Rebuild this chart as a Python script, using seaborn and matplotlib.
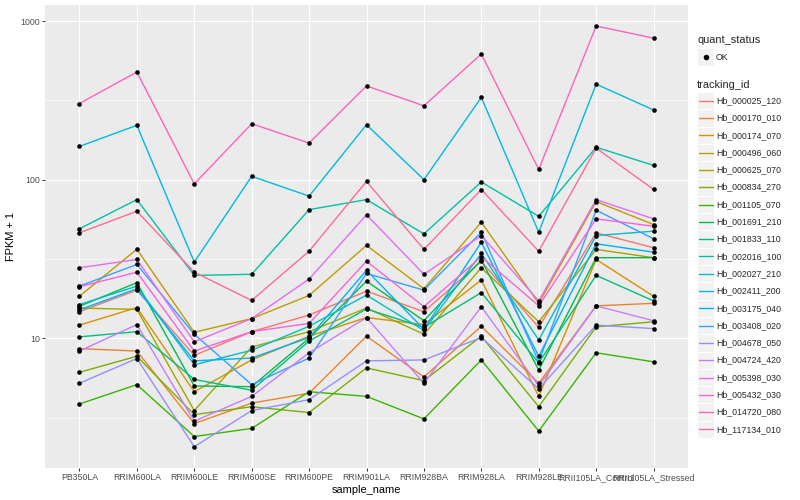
import pandas as pd
import matplotlib
matplotlib.use("Agg")
import matplotlib.pyplot as plt
import seaborn as sns
from matplotlib.lines import Line2D
from matplotlib.patches import Rectangle
from matplotlib.ticker import FixedLocator, FixedFormatter, NullFormatter


samples = ["PB350LA", "RRIM600LA", "RRIM600LE", "RRIM600SE", "RRIM600PE",
           "RRIM901LA", "RRIM928BA", "RRIM928LA", "RRIM928LE",
           "RRII105LA_Control", "RRII105LA_Stressed"]

tracking_ids = ["Hb_000025_120", "Hb_000170_010", "Hb_000174_070", "Hb_000496_060",
                "Hb_000625_070", "Hb_000834_270", "Hb_001105_070", "Hb_001691_210",
                "Hb_001833_110", "Hb_002016_100", "Hb_002027_210", "Hb_002411_200",
                "Hb_003175_040", "Hb_003408_020", "Hb_004678_050", "Hb_004724_420",
                "Hb_005398_030", "Hb_005432_030", "Hb_014720_080", "Hb_117134_010"]

# FPKM + 1 per gene, in sample order
hb_000025_120 = [14.7, 20.1, 7.8, 11.0, 14.0, 19.8, 14.7, 30.5, 11.7, 46.2, 37.2]
hb_000170_010 = [8.6, 8.3, 2.9, 3.9, 4.5, 10.3, 5.7, 11.9, 5.2, 16.0, 16.6]
hb_000174_070 = [12.1, 15.6, 4.6, 7.3, 10.3, 13.5, 12.2, 23.3, 4.3, 31.4, 18.4]
hb_000496_060 = [18.4, 36.4, 10.9, 13.3, 18.6, 38.5, 20.5, 53.9, 16.6, 72.7, 52.1]
hb_000625_070 = [15.5, 15.2, 3.5, 8.8, 11.0, 15.5, 10.6, 27.8, 12.7, 36.3, 32.2]
hb_000834_270 = [6.1, 7.7, 3.3, 3.7, 3.4, 6.5, 5.4, 10.3, 3.7, 11.8, 12.7]
hb_001105_070 = [3.85, 5.1, 2.4, 2.7, 4.6, 4.3, 3.1, 7.3, 2.6, 8.1, 7.1]
hb_001691_210 = [15.9, 22.4, 5.0, 4.95, 10.0, 22.9, 12.9, 31.1, 6.3, 32.2, 32.2]
hb_001833_110 = [10.2, 11.0, 5.5, 4.7, 9.6, 15.3, 11.7, 19.4, 7.0, 24.9, 17.2]
hb_002016_100 = [49.0, 74.8, 24.9, 25.3, 64.7, 74.8, 45.5, 96.7, 58.7, 160.0, 123.0]
hb_002027_210 = [16.3, 21.3, 6.8, 8.4, 11.9, 18.7, 11.2, 34.3, 9.75, 44.4, 47.3]
hb_002411_200 = [162.0, 220.0, 30.2, 105.0, 78.7, 222.0, 100.0, 330.0, 46.6, 400.0, 275.0]
hb_003175_040 = [15.1, 20.5, 7.2, 7.5, 10.1, 26.8, 11.4, 40.3, 7.7, 39.4, 34.9]
hb_003408_020 = [21.3, 29.2, 10.6, 5.1, 7.5, 25.6, 20.1, 46.6, 7.1, 64.1, 42.4]
hb_004678_050 = [5.2, 7.45, 2.07, 3.5, 4.1, 7.2, 7.3, 10.1, 4.8, 12.1, 11.5]
hb_004724_420 = [8.3, 12.2, 3.0, 4.3, 8.1, 13.5, 5.2, 15.8, 5.0, 16.0, 12.9]
hb_005398_030 = [27.8, 31.4, 9.5, 13.3, 23.6, 60.0, 25.3, 44.4, 17.2, 74.8, 56.6]
hb_005432_030 = [21.1, 26.1, 8.3, 11.0, 12.4, 30.6, 15.8, 32.7, 16.0, 56.6, 50.8]
hb_014720_080 = [302.0, 477.0, 94.0, 225.0, 170.0, 390.0, 292.0, 620.0, 116.0, 930.0, 780.0]
hb_117134_010 = [46.2, 63.2, 26.1, 17.3, 35.4, 97.5, 36.3, 86.6, 35.4, 158.0, 86.7]

series = [hb_000025_120, hb_000170_010, hb_000174_070, hb_000496_060, hb_000625_070,
          hb_000834_270, hb_001105_070, hb_001691_210, hb_001833_110, hb_002016_100,
          hb_002027_210, hb_002411_200, hb_003175_040, hb_003408_020, hb_004678_050,
          hb_004724_420, hb_005398_030, hb_005432_030, hb_014720_080, hb_117134_010]

# ggplot default hue palette, 20 levels
hue_colors = ["#F8766D", "#EA8331", "#D89000", "#C09B00", "#A3A500",
              "#7CAE00", "#39B600", "#00BB4E", "#00BF7D", "#00C1A3",
              "#00BFC4", "#00BAE0", "#00B0F6", "#35A2FF", "#9590FF",
              "#C77CFF", "#E76BF3", "#FA62DB", "#FF62BC", "#FF6C91"]

rows = []
for tid, vals in zip(tracking_ids, series):
    for s, v in zip(samples, vals):
        rows.append({'tracking_id': tid, 'sample_name': s, 'fpkm': v, 'quant_status': 'OK'})
df = pd.DataFrame(rows)

sns.set_style('darkgrid', {'axes.facecolor': '#EBEBEB', 'grid.color': 'white'})
plt.rcParams['font.family'] = ['Liberation Sans', 'DejaVu Sans']

W, H = 800, 500


def fx(px):
    return px / W


def fy(py):
    return 1 - py / H


fig = plt.figure(figsize=(8, 5), dpi=100)
ax = fig.add_axes([fx(45), fy(468), fx(688) - fx(45), fy(5) - fy(468)])

sns.lineplot(data=df, x='sample_name', y='fpkm', hue='tracking_id',
             hue_order=tracking_ids, palette=hue_colors, estimator=None,
             linewidth=1.0, legend=False, ax=ax)
sns.scatterplot(data=df, x='sample_name', y='fpkm', color='black', s=11,
                linewidth=0, legend=False, ax=ax, zorder=3)

ax.set_yscale('log')
ax.set_ylim(1.52, 1262)
ax.set_xlim(-0.6, len(samples) - 0.4)

ax.yaxis.set_major_locator(FixedLocator([10, 100, 1000]))
ax.yaxis.set_major_formatter(FixedFormatter(['10', '100', '1000']))
ax.yaxis.set_minor_locator(FixedLocator([10 ** 0.5, 10 ** 1.5, 10 ** 2.5]))
ax.yaxis.set_minor_formatter(NullFormatter())

ax.grid(which='major', color='white', linewidth=0.8)
ax.grid(which='minor', axis='y', color='white', linewidth=0.4)
ax.set_axisbelow(True)
for sp in ax.spines.values():
    sp.set_visible(False)

ax.tick_params(axis='both', which='major', bottom=True, left=True, length=2,
               width=0.7, color='#333333', labelcolor='#4D4D4D',
               labelsize=6.3, pad=1.6)
ax.tick_params(axis='y', which='minor', left=False, length=0)

ax.set_xlabel('sample_name', fontsize=7.9, labelpad=2, color='black')
ax.set_ylabel('FPKM + 1', fontsize=7.9, labelpad=3, color='black')

# ggplot-like legends
lx = 697
kw, kh = 17, 17.3
fig.text(fx(lx), fy(40), 'quant_status', fontsize=7.9, va='center', ha='left')
fig.add_artist(Rectangle((fx(lx), fy(57 + kh / 2)), kw / W, kh / H,
                         transform=fig.transFigure, facecolor='#F2F2F2',
                         edgecolor='white', linewidth=0.8))
fig.add_artist(Line2D([fx(lx + kw / 2)], [fy(57)], marker='o', color='black',
                      markersize=3, linestyle='', transform=fig.transFigure))
fig.text(fx(716), fy(57), 'OK', fontsize=6.3, va='center', ha='left')

fig.text(fx(lx), fy(85), 'tracking_id', fontsize=7.9, va='center', ha='left')
for i, (tid, c) in enumerate(zip(tracking_ids, hue_colors)):
    cy = 100.7 + i * kh
    fig.add_artist(Rectangle((fx(lx), fy(cy + kh / 2)), kw / W, kh / H,
                             transform=fig.transFigure, facecolor='#F2F2F2',
                             edgecolor='white', linewidth=0.8))
    fig.add_artist(Line2D([fx(lx + 1.5), fx(lx + kw - 1.5)], [fy(cy), fy(cy)],
                          color=c, linewidth=1.0, transform=fig.transFigure))
    fig.text(fx(716), fy(cy), tid, fontsize=6.3, va='center', ha='left')

fig.savefig('out.png', dpi=100)
